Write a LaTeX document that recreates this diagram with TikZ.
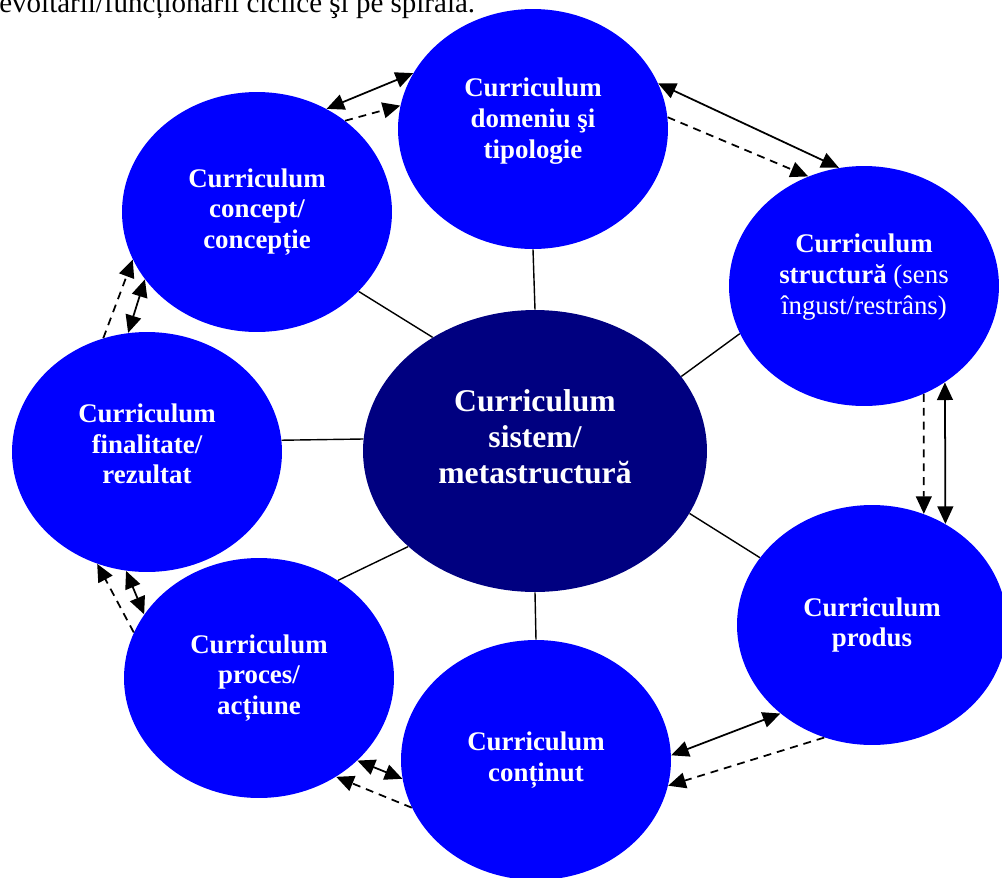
\documentclass[tikz,border=0pt]{standalone}
\usepackage{fontspec}
\setmainfont{Liberation Serif}
\usetikzlibrary{shapes.geometric}
\usetikzlibrary{arrows.meta}
\definecolor{hubblue}{RGB}{0,0,128}

\begin{document}
\begin{tikzpicture}[
    x=0.02cm, y=-0.02cm, % one unit is one pixel, y grows downwards
    sat/.style={
        ellipse, % oval nodes round the hub
        fill=blue, % bright blue fill
        text=white, % white labels
        inner sep=0pt,
        minimum width=5.4cm,
        minimum height=4.8cm,
        align=center, % centred lines
        font=\fontsize{15.3}{17.4}\selectfont\bfseries
    },
    hub/.style={
        sat,
        fill=hubblue, % dark blue for the middle
        minimum width=6.88cm,
        minimum height=5.64cm,
        font=\fontsize{18}{20.5}\selectfont\bfseries
    },
    spoke/.style={line width=0.8pt}, % plain line to the hub
    twoway/.style={line width=1pt, {Triangle[length=10pt,width=9pt]}-{Triangle[length=10pt,width=9pt]}},
    oneway/.style={line width=1pt, dash pattern=on 4.5pt off 3.4pt, -{Triangle[length=10pt,width=9pt]}}
]
\clip (0,0) rectangle (1002,877);

\node[anchor=base west, inner sep=0pt, font=\fontsize{16.5}{19}\selectfont] (head) at (-1,12)
    {evoltării/funcționării ciclice şi pe spirală.};

\node[hub, text depth=16pt] (sys) at (535,451) {Curriculum\\ sistem/\\ metastructură};
\node[sat, text depth=12.4pt] (dom) at (533,129) {Curriculum\\ domeniu şi\\ tipologie};
\node[sat, text depth=13.5pt] (str) at (864,286) {Curriculum\\ structură {\mdseries (sens}\\ {\mdseries îngust/restrâns)}};
\node[sat] (prd) at (872,625) {Curriculum\\ produs};
\node[sat] (cnt) at (536,760) {Curriculum\\ conținut};
\node[sat] (pro) at (259,678) {Curriculum\\ proces/\\ acțiune};
\node[sat, text depth=9pt] (fin) at (147,452) {Curriculum\\ finalitate/\\ rezultat};
\node[sat] (con) at (257,212) {Curriculum\\ concept/\\ concepție};

% spokes from the hub
\draw[spoke] (sys.90) -- (dom.270);
\draw[spoke] (sys.132.9) -- (con.-38.3);
\draw[spoke] (sys.176) -- (fin.5);
\draw[spoke] (sys.217.5) -- (pro.51);
\draw[spoke] (sys.270) -- (cnt.90);
\draw[spoke] (sys.-22.6) -- (prd.149.4);
\draw[spoke] (sys.27.7) -- (str.201.9);

% links round the ring
\draw[twoway] (con.56.6) -- (dom.155.1);
\draw[oneway] (con.46.7) -- (dom.170.3);
\draw[twoway] (dom.20.2) -- (str.102.8);
\draw[oneway] (dom.5.6) -- (str.117.8);
\draw[twoway] (str.-50.4) -- (prd.54.65);
\draw[oneway] (str.-61.85) -- (prd.65.8);
\draw[twoway] (prd.224.7) -- (cnt.2.9);
\draw[oneway] (prd.247.6) -- (cnt.-11.8);
\draw[twoway] (cnt.188.4) -- (pro.-40.8);
\draw[oneway] (cnt.201.3) -- (pro.-52.4);
\draw[twoway] (pro.151.6) -- (fin.260.6);
\draw[oneway] (pro.160.9) -- (fin.246.6);
\draw[twoway] (fin.99.5) -- (con.211.3);
\draw[oneway] (fin.111.4) -- (con.201.8);
\end{tikzpicture}
\end{document}
